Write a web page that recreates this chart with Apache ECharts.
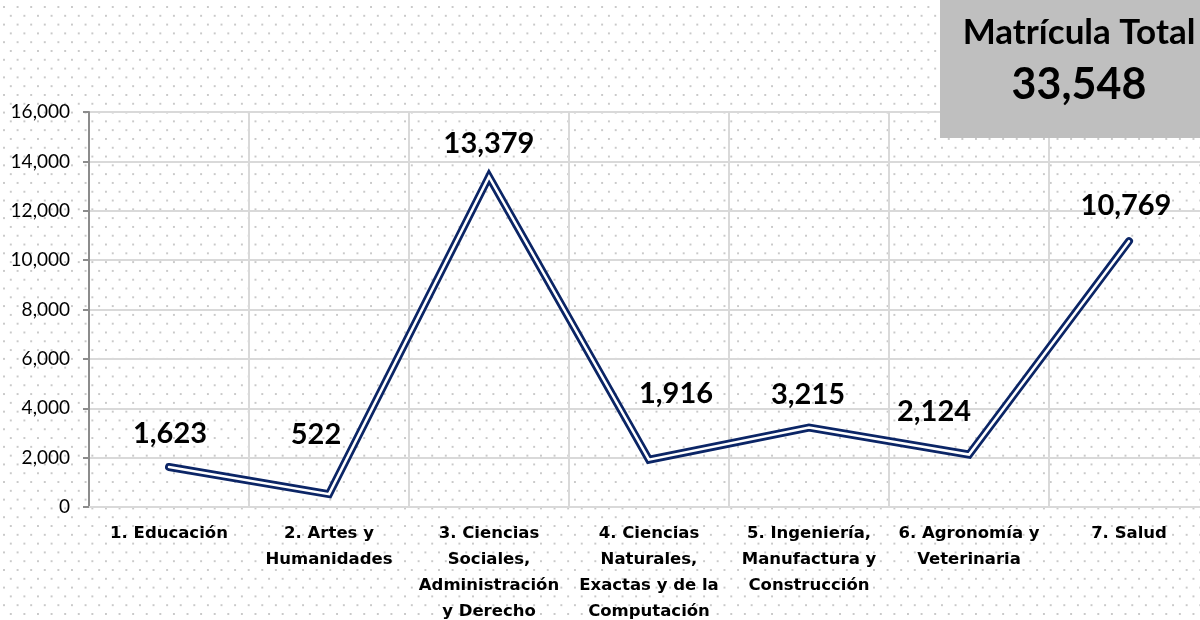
<!DOCTYPE html>
<html>
<head>
<meta charset="utf-8">
<script src="https://cdn.jsdelivr.net/npm/echarts@6/dist/echarts.min.js"></script>
<style>
  html, body { margin: 0; padding: 0; overflow: hidden; width: 1200px; height: 620px; }
  #main {
    width: 1209px;
    height: 620px;
    background-color: #fff;
    background-image:
      radial-gradient(circle, #c9c9c9 0.9px, transparent 1.2px),
      radial-gradient(circle, #c9c9c9 0.9px, transparent 1.2px);
    background-size: 13.6px 17.6px, 13.6px 17.6px;
    background-position: 4px 7px, 10.8px 15.8px;
  }
</style>
</head>
<body>
<div id="main"></div>
<script>
// categorías (campo amplio)
const categorias = [
  "1. Educación",
  "2. Artes y\nHumanidades",
  "3. Ciencias\nSociales,\nAdministración\ny Derecho",
  "4. Ciencias\nNaturales,\nExactas y de la\nComputación",
  "5. Ingeniería,\nManufactura y\nConstrucción",
  "6. Agronomía y\nVeterinaria",
  "7. Salud"
];
const matricula = [1623, 522, 13379, 1916, 3215, 2124, 10769];
const yTicks = [0, 2000, 4000, 6000, 8000, 10000, 12000, 14000, 16000];
const totalTitulo = "Matrícula Total";
const total = 33548;

const fmt = v => v.toLocaleString("en-US");

// small nudges so labels sit like the original
const labelShift = [[1, 0], [-13, -26], [0, 0], [27, -33], [-1, 0], [-35, -10], [-3, -2]];

const myChart = echarts.init(document.getElementById("main"));

const option = {
  backgroundColor: "transparent",
  animation: false,
  grid: { left: 89, top: 112, right: 0, height: 395, outerBoundsMode: "none" },
  xAxis: {
    type: "category",
    data: categorias,
    boundaryGap: true,
    axisLine: { lineStyle: { color: "#d9d9d9", width: 2 } },
    axisTick: { show: false },
    splitLine: { show: true, lineStyle: { color: "#d9d9d9", width: 2 } },
    axisLabel: {
      interval: 0,
      margin: 14,
      color: "#000",
      fontFamily: "DejaVu Sans",
      fontWeight: "bold",
      fontSize: 16.5,
      lineHeight: 26,
      align: "center"
    }
  },
  yAxis: {
    type: "value",
    min: yTicks[0],
    max: yTicks[yTicks.length - 1],
    interval: 2000,
    axisLine: { show: true, lineStyle: { color: "#8c8c8c", width: 2 } },
    axisTick: { show: true, length: 6, lineStyle: { color: "#8c8c8c", width: 2 } },
    splitLine: { lineStyle: { color: "#d9d9d9", width: 2 } },
    axisLabel: {
      margin: 19,
      color: "#000",
      fontFamily: "Lato",
      fontSize: 19,
      formatter: v => fmt(v)
    }
  },
  series: [
    {
      type: "line",
      data: matricula.map((v, i) => ({
        value: v,
        label: { offset: labelShift[i] }
      })),
      symbol: "circle",
      symbolSize: 1,
      showSymbol: true,
      itemStyle: { color: "rgba(0,0,0,0)" },
      lineStyle: { color: "#0b2566", width: 8, cap: "round", join: "miter" },
      label: {
        show: true,
        position: "top",
        distance: 18,
        color: "#000",
        fontFamily: "Lato",
        fontWeight: "bold",
        fontSize: 29,
        formatter: p => fmt(p.value)
      },
      z: 2
    },
    {
      type: "line",
      data: matricula,
      symbol: "none",
      lineStyle: { color: "#ffffff", width: 2.5, cap: "round", join: "miter" },
      silent: true,
      z: 3
    }
  ],
  graphic: [
    {
      type: "group",
      left: 940,
      top: 0,
      z: 100,
      children: [
        { type: "rect", z: 100, shape: { x: 0, y: 0, width: 269, height: 138 }, style: { fill: "#bfbfbf" } },
        {
          type: "text",
          z: 101,
          style: {
            x: 139, y: 33, text: totalTitulo, align: "center", verticalAlign: "middle",
            fontFamily: "Lato", fontWeight: "bold", fontSize: 35, fill: "#000"
          }
        },
        {
          type: "text",
          z: 101,
          style: {
            x: 139, y: 85, text: fmt(total), align: "center", verticalAlign: "middle",
            fontFamily: "Lato", fontWeight: "bold", fontSize: 43, fill: "#000"
          }
        }
      ]
    }
  ]
};

myChart.setOption(option);
</script>
</body>
</html>
